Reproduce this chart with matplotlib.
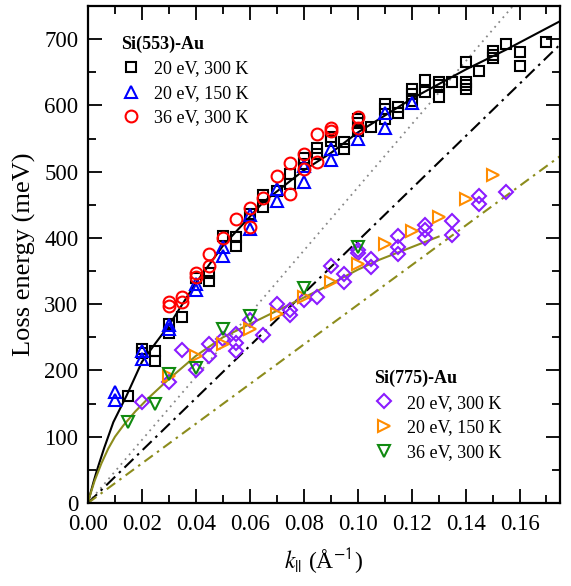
import numpy as np
import matplotlib
matplotlib.use('Agg')
import matplotlib.pyplot as plt
from matplotlib.ticker import MultipleLocator

plt.rcParams['font.family'] = ['Liberation Serif', 'DejaVu Serif']
plt.rcParams['mathtext.fontset'] = 'stix'

# Si(553)-Au
k553_20_300 = [0.015, 0.02, 0.02, 0.025, 0.025, 0.03, 0.03, 0.035, 0.04, 0.045, 0.045,
               0.05, 0.055, 0.055, 0.06, 0.065, 0.065, 0.07, 0.075, 0.075, 0.08, 0.08,
               0.085, 0.085, 0.09, 0.09, 0.095, 0.095, 0.1, 0.1, 0.1, 0.105, 0.11, 0.11,
               0.11, 0.115, 0.115, 0.12, 0.12, 0.12, 0.125, 0.125, 0.13, 0.13, 0.13,
               0.135, 0.14, 0.14, 0.14, 0.14, 0.145, 0.15, 0.15, 0.15, 0.155, 0.16, 0.16, 0.17]
E553_20_300 = [161, 233, 226, 230, 214, 270, 256, 281, 339, 347, 335,
               403, 402, 388, 436, 465, 446, 471, 497, 482, 520, 512,
               536, 526, 552, 547, 544, 534, 579, 574, 562, 567, 602, 594,
               579, 597, 589, 624, 617, 607, 638, 620, 636, 631, 613,
               635, 666, 636, 631, 624, 652, 682, 676, 671, 692, 681, 660, 696]

k553_20_150 = [0.01, 0.01, 0.02, 0.02, 0.03, 0.03, 0.04, 0.04, 0.05, 0.05, 0.06, 0.06,
               0.07, 0.07, 0.08, 0.08, 0.09, 0.09, 0.1, 0.11, 0.11, 0.12]
E553_20_150 = [167, 155, 230, 218, 269, 263, 331, 321, 386, 372, 434, 414,
               474, 456, 509, 485, 534, 517, 549, 589, 566, 603]

k553_36_300 = [0.03, 0.03, 0.035, 0.035, 0.04, 0.04, 0.045, 0.045, 0.05, 0.055, 0.06, 0.06,
               0.065, 0.07, 0.075, 0.075, 0.08, 0.08, 0.085, 0.085, 0.09, 0.09, 0.1, 0.1]
E553_36_300 = [303, 298, 311, 303, 347, 341, 376, 358, 400, 429, 445, 416,
               460, 493, 513, 466, 526, 504, 557, 514, 566, 562, 583, 566]

# Si(775)-Au
k775_20_300 = [0.02, 0.03, 0.035, 0.04, 0.045, 0.045, 0.05, 0.055, 0.055, 0.055, 0.06, 0.065,
               0.07, 0.075, 0.075, 0.08, 0.085, 0.09, 0.095, 0.095, 0.1, 0.1, 0.105, 0.105,
               0.115, 0.115, 0.115, 0.125, 0.125, 0.125, 0.135, 0.135, 0.145, 0.145, 0.155]
E775_20_300 = [152, 182, 231, 200, 240, 222, 248, 255, 242, 229, 276, 253,
               301, 291, 283, 306, 311, 358, 346, 333, 382, 378, 368, 356,
               403, 386, 376, 420, 412, 400, 425, 404, 464, 451, 469]

k775_20_150 = [0.03, 0.04, 0.05, 0.06, 0.07, 0.08, 0.09, 0.1, 0.11, 0.12, 0.13, 0.14, 0.15]
E775_20_150 = [191, 222, 240, 263, 285, 311, 333, 361, 391, 411, 431, 459, 495]

k775_36_300 = [0.015, 0.025, 0.03, 0.04, 0.05, 0.06, 0.08, 0.1]
E775_36_300 = [122, 149, 195, 203, 263, 282, 325, 386]

# curvas
kFit553 = [0, 0.0005, 0.001, 0.002, 0.003, 0.004, 0.006, 0.0094, 0.0143, 0.02, 0.025,
           0.03, 0.04, 0.05, 0.065, 0.08, 0.09, 0.1, 0.12, 0.14, 0.155, 0.175]
EFit553 = [0, 8, 16, 31, 45, 58, 83, 122, 162, 213, 241,
           268, 332, 388, 454, 502, 528, 559, 610, 654, 684, 727]
kFit775 = [0, 0.0005, 0.001, 0.0025, 0.005, 0.0075, 0.01, 0.0131, 0.0175, 0.0223, 0.0297,
           0.04, 0.05, 0.07, 0.086, 0.1, 0.108, 0.13]
EFit775 = [0, 8, 15, 34, 60, 82, 100, 117, 138, 158, 186,
           222, 250, 290, 322, 352, 367, 402]
kLin = [0, 0.175]
slopeGray, slopeBlack, slopeOlive = 4760, 3953, 2990

OLIVE = '#8c8c1c'

fig = plt.figure(figsize=(5.71, 5.86), dpi=100)
ax = fig.add_axes([0.1541, 0.1416, 0.8266, 0.8482])

ax.plot(kLin, [slopeGray * k for k in kLin], linestyle=(0, (1, 2.5)), color='#888888', lw=1.3)
ax.plot(kLin, [slopeBlack * k for k in kLin], linestyle=(0, (6, 2.5, 1.2, 2.5)), color='black', lw=1.5)
ax.plot(kLin, [slopeOlive * k for k in kLin], linestyle=(0, (5, 2.5, 1.2, 2.5)), color=OLIVE, lw=1.5)
ax.plot(kFit553, EFit553, '-', color='black', lw=1.5)
ax.plot(kFit775, EFit775, '-', color=OLIVE, lw=1.5)

mk = dict(linestyle='none', mfc='none', mew=1.5)
h1, = ax.plot(k553_20_300, E553_20_300, 's', mec='black', ms=7.5, **mk)
h2, = ax.plot(k553_20_150, E553_20_150, '^', mec='#0000ff', ms=9, **mk)
h3, = ax.plot(k553_36_300, E553_36_300, 'o', mec='#ff0000', ms=8.5, **mk)
h4, = ax.plot(k775_20_300, E775_20_300, 'D', mec='#8b1cff', ms=7.5, **mk)
h5, = ax.plot(k775_20_150, E775_20_150, '>', mec='#ff8c00', ms=9, **mk)
h6, = ax.plot(k775_36_300, E775_36_300, 'v', mec='#108a10', ms=9, **mk)

ax.set_xlim(0, 0.175)
ax.set_ylim(0, 750)
ax.xaxis.set_major_locator(MultipleLocator(0.02))
ax.xaxis.set_minor_locator(MultipleLocator(0.01))
ax.yaxis.set_major_locator(MultipleLocator(100))
ax.yaxis.set_minor_locator(MultipleLocator(50))
ax.xaxis.set_major_formatter(plt.FuncFormatter(lambda v, p: f'{v:.2f}'))
ax.tick_params(which='both', direction='in', top=True, right=True, width=1.3, labelsize=16.5)
ax.tick_params(which='major', length=10)
ax.tick_params(which='minor', length=5.5)
ax.tick_params(axis='x', pad=8)
ax.tick_params(axis='y', pad=7)
for s in ax.spines.values():
    s.set_linewidth(1.6)

ax.set_ylabel('Loss energy (meV)', fontsize=19, labelpad=6)
ax.set_xlabel(r'$k_{||}$ (Å$^{\mathsf{-1}}$)', fontsize=17, labelpad=8)

legArgs = dict(frameon=False, fontsize=13, handlelength=1.1, handletextpad=0.7,
               labelspacing=0.42, borderpad=0, alignment='left', loc='upper left',
               title_fontproperties={'weight': 'bold', 'size': 13})
leg1 = ax.legend([h1, h2, h3], ['20 eV, 300 K', '20 eV, 150 K', '36 eV, 300 K'],
                 title='Si(553)-Au', bbox_to_anchor=(0.051, 0.959), **legArgs)
ax.add_artist(leg1)
ax.legend([h4, h5, h6], ['20 eV, 300 K', '20 eV, 150 K', '36 eV, 300 K'],
          title='Si(775)-Au', bbox_to_anchor=(0.587, 0.286), **legArgs)

fig.savefig('out.png', dpi=100)
